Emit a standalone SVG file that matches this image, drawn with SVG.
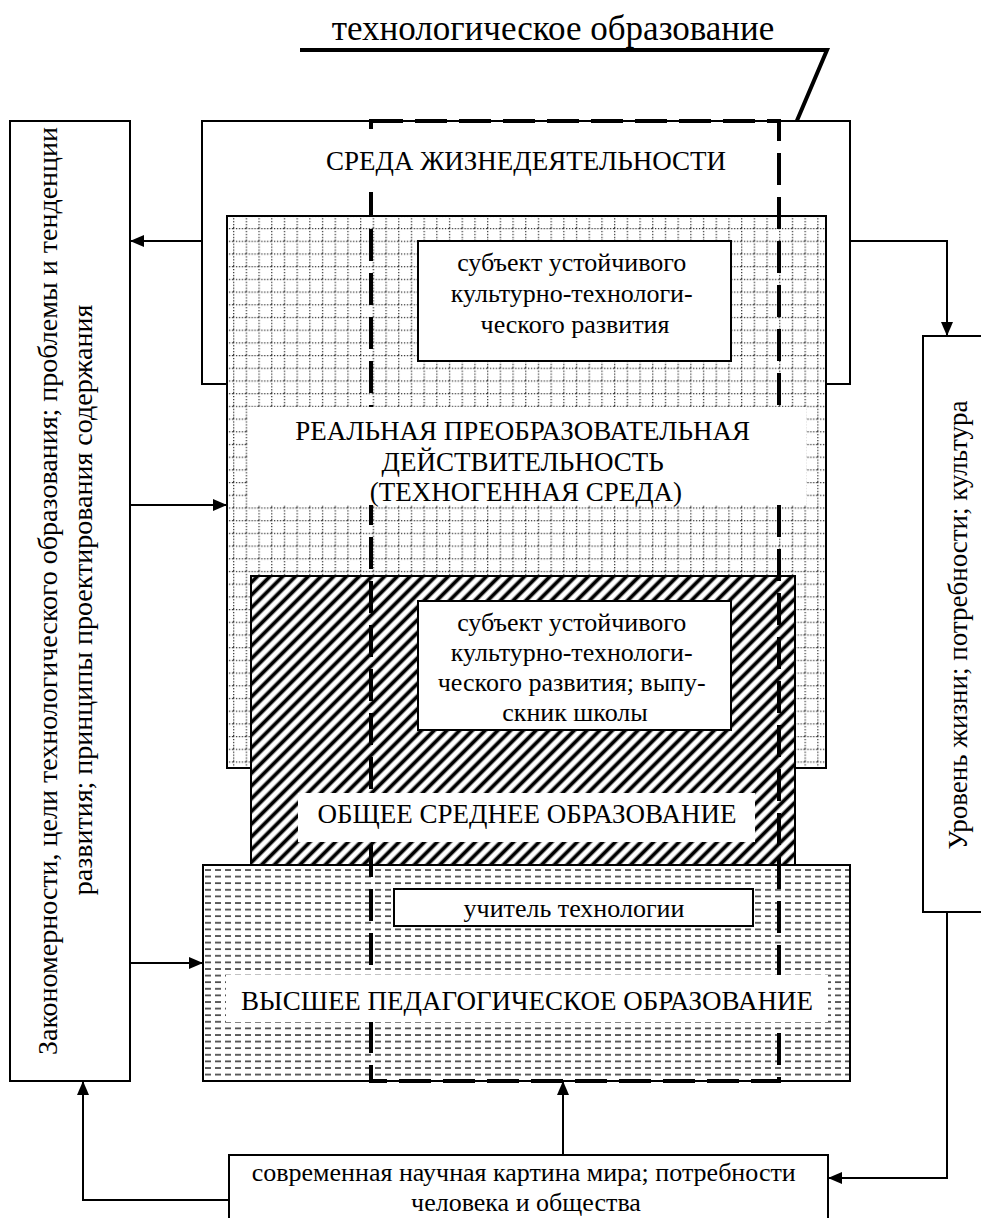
<svg xmlns="http://www.w3.org/2000/svg" width="981" height="1218" viewBox="0 0 981 1218">
  <style>
    .t { font-family: "Liberation Serif", "Times New Roman", serif; fill: #000; font-size: 26px; }
    .caps { font-size: 27px; }
    .box { fill: #fff; stroke: #000; stroke-width: 2; }
    .wire { fill: none; stroke: #000; stroke-width: 2; }
    .band { fill: #fff; stroke: none; }
  </style>
  <defs>
    <!-- dotted grid fill -->
    <pattern id="grid" patternUnits="userSpaceOnUse" x="233" y="228" width="12.7" height="12.7">
      <rect width="12.7" height="12.7" fill="#fff"/>
      <path d="M0.6,0 V12.7 M0,0.6 H12.7" stroke="#3a3a3a" stroke-width="1.4" stroke-dasharray="1.3 1.6"/>
    </pattern>
    <!-- diagonal hatch fill -->
    <pattern id="hatch" patternUnits="userSpaceOnUse" width="9" height="9" patternTransform="rotate(45)">
      <rect width="9" height="9" fill="#fff"/>
      <line x1="4.5" y1="0" x2="4.5" y2="9" stroke="#000" stroke-width="3.8"/>
    </pattern>
    <!-- dashed-row fill -->
    <pattern id="dashes" patternUnits="userSpaceOnUse" x="205" y="869" width="10" height="6.6">
      <rect width="10" height="6.6" fill="#fff"/>
      <line x1="0" y1="1" x2="6" y2="1" stroke="#444" stroke-width="1.7"/>
    </pattern>
    <marker id="arr" viewBox="0 0 14 12" refX="14" refY="6" markerWidth="14" markerHeight="12" markerUnits="userSpaceOnUse" orient="auto">
      <path d="M0,0 L14,6 L0,12 Z" fill="#000"/>
    </marker>
  </defs>

  <!-- heading with leader line -->
  <g id="title">
    <text class="t" x="553" y="40" style="font-size:35px" text-anchor="middle">технологическое образование</text>
    <path d="M300,50 H827 L787,144" fill="none" stroke="#000" stroke-width="4"/>
  </g>

  <!-- nested spheres -->
  <g id="sreda">
    <rect class="box" x="202" y="121" width="648" height="263"/>
  </g>
  <g id="real">
    <rect x="227" y="216" width="599" height="552" fill="url(#grid)" stroke="#000" stroke-width="2"/>
  </g>
  <g id="obshee">
    <rect x="251" y="576" width="544" height="289" fill="url(#hatch)" stroke="#000" stroke-width="2"/>
  </g>
  <g id="vysshee">
    <rect x="203" y="865" width="647" height="216" fill="url(#dashes)" stroke="#000" stroke-width="2"/>
  </g>

  <!-- technological education contour -->
  <g id="tech-contour">
    <path d="M371,121 H779 V1081 H371 Z" fill="none" stroke="#000" stroke-width="4" stroke-dasharray="32 12"/>
  </g>

  <!-- labels inside spheres -->
  <g id="sreda-label">
    <rect class="band" x="326" y="136" width="400" height="56"/>
    <text class="t caps" x="526" y="170" text-anchor="middle">СРЕДА ЖИЗНЕДЕЯТЕЛЬНОСТИ</text>
  </g>
  <g id="subject1">
    <rect class="box" x="418" y="241" width="313" height="120"/>
    <text class="t" text-anchor="middle">
      <tspan x="575" y="271">субъект устойчивого</tspan>
      <tspan x="575" y="302">культурно-технологи-</tspan>
      <tspan x="575" y="333">ческого развития</tspan>
    </text>
  </g>
  <g id="real-label">
    <rect class="band" x="248" y="407" width="558" height="98"/>
    <text class="t caps" text-anchor="middle">
      <tspan x="526" y="440">РЕАЛЬНАЯ ПРЕОБРАЗОВАТЕЛЬНАЯ</tspan>
      <tspan x="526" y="471">ДЕЙСТВИТЕЛЬНОСТЬ</tspan>
      <tspan x="526" y="501">(ТЕХНОГЕННАЯ СРЕДА)</tspan>
    </text>
  </g>
  <g id="subject2">
    <rect class="box" x="418" y="601" width="313" height="129"/>
    <text class="t" text-anchor="middle">
      <tspan x="575" y="631">субъект устойчивого</tspan>
      <tspan x="575" y="661">культурно-технологи-</tspan>
      <tspan x="575" y="691">ческого развития; выпу-</tspan>
      <tspan x="575" y="721">скник школы</tspan>
    </text>
  </g>
  <g id="obshee-label">
    <rect class="band" x="298" y="793" width="457" height="49"/>
    <text class="t caps" x="527" y="823" text-anchor="middle">ОБЩЕЕ СРЕДНЕЕ ОБРАЗОВАНИЕ</text>
  </g>
  <g id="teacher">
    <rect class="box" x="394" y="889" width="359" height="37"/>
    <text class="t" x="574" y="917" text-anchor="middle">учитель технологии</text>
  </g>
  <g id="vysshee-label">
    <rect class="band" x="226" y="975" width="602" height="47"/>
    <text class="t caps" x="527" y="1010" text-anchor="middle">ВЫСШЕЕ ПЕДАГОГИЧЕСКОЕ ОБРАЗОВАНИЕ</text>
  </g>

  <!-- side and bottom blocks -->
  <g id="laws">
    <rect class="box" x="10" y="121" width="120" height="960"/>
    <text class="t" style="font-size:28px" text-anchor="middle" transform="translate(57,591) rotate(-90)">Закономерности, цели технологического образования; проблемы и тенденции</text>
    <text class="t" style="font-size:28px" text-anchor="middle" transform="translate(92,600) rotate(-90)">развития; принципы проектирования содержания</text>
  </g>
  <g id="living">
    <rect class="box" x="923" y="336" width="70" height="576"/>
    <text class="t" style="font-size:27px" text-anchor="middle" transform="translate(967,625) rotate(-90)">Уровень жизни; потребности; культура</text>
  </g>
  <g id="worldview">
    <rect class="box" x="229" y="1155" width="599" height="80"/>
    <text class="t" text-anchor="middle">
      <tspan x="527" y="1181">современная научная картина мира; потребности</tspan>
      <tspan x="526" y="1211">человека и общества</tspan>
    </text>
  </g>

  <!-- connectors -->
  <g id="connectors">
    <path class="wire" d="M202,241 H130" marker-end="url(#arr)"/>
    <path class="wire" d="M130,505 H227" marker-end="url(#arr)"/>
    <path class="wire" d="M130,963 H203" marker-end="url(#arr)"/>
    <path class="wire" d="M850,241 H947 V336" marker-end="url(#arr)"/>
    <path class="wire" d="M947,912 V1178 H828" marker-end="url(#arr)"/>
    <path class="wire" d="M563,1155 V1081" marker-end="url(#arr)"/>
    <path class="wire" d="M229,1200 H83 V1081" marker-end="url(#arr)"/>
  </g>
</svg>
